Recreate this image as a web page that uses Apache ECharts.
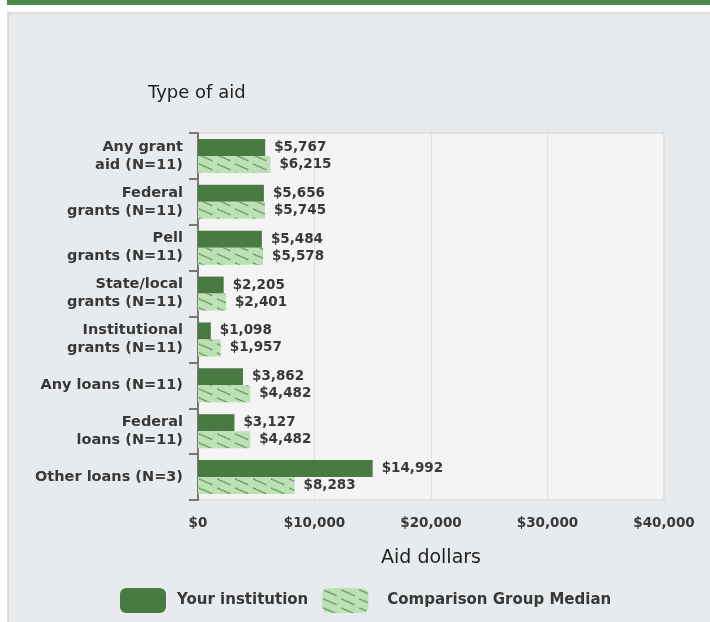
<!DOCTYPE html>
<html><head><meta charset="utf-8">
<script src="https://cdn.jsdelivr.net/npm/echarts@6/dist/echarts.min.js"></script>
<style>html,body{margin:0;padding:0;background:#fff;}#c{width:710px;height:622px;}</style>
</head><body><div id="c"></div>
<script>
var categories = ['Any grant\naid (N=11)','Federal\ngrants (N=11)','Pell\ngrants (N=11)','State/local\ngrants (N=11)','Institutional\ngrants (N=11)','Any loans (N=11)','Federal\nloans (N=11)','Other loans (N=3)'];
var yourInstitution = [5767,5656,5484,2205,1098,3862,3127,14992];
var comparisonMedian = [6215,5745,5578,2401,1957,4482,4482,8283];
var xTicks = [0,10000,20000,30000,40000];

function makePattern(){
  var W = 18, H = 9;
  var c = document.createElement('canvas');
  c.width = W; c.height = H;
  var g = c.getContext('2d');
  g.fillStyle = '#bde0b6';
  g.fillRect(0,0,W,H);
  g.fillStyle = '#4e8e48';
  for (var i=0;i<8;i++){
    var x = 1 + i*1.7, y = 1.5 + i*0.75;
    g.fillRect(x, y, 1.4, 1.4);
  }
  return c;
}
var pat = {image: makePattern(), repeat: 'repeat'};
var fmt = function(v){ return '$' + Number(v).toLocaleString('en-US'); };
var font = 'DejaVu Sans';
var chart = echarts.init(document.getElementById('c'));
chart.setOption({
  animation: false,
  backgroundColor: '#ffffff',
  graphic: [
    {type:'rect', shape:{x:7,y:0,width:710,height:5}, style:{fill:'#4b8a4f'}},
    {type:'rect', shape:{x:8,y:13,width:720,height:640}, style:{fill:'#e8ebee', stroke:'#d2d2d2', lineWidth:1.5}, z:-10},
    {type:'rect', shape:{x:198,y:133,width:466,height:367}, style:{fill:'#f4f4f4', stroke:'#dcdcdc', lineWidth:1.5}, z:-5}
  ],
  title: {text:'Type of aid', left:143, top:79, textStyle:{fontFamily:font, fontSize:18, fontWeight:'normal', color:'#222'}},
  legend: {
    bottom: 4, left: 115, itemWidth: 46, itemHeight: 25, itemGap: 14,
    textStyle:{fontFamily:font, fontSize:15, fontWeight:'bold', color:'#383838', padding:[0,0,0,6]},
    data:[{name:'Your institution', icon:'roundRect'},
          {name:'Comparison Group Median', icon:'roundRect', textStyle:{padding:[0,0,0,14]}}]
  },
  grid: {left:198, right:46, top:133, bottom:122, containLabel:false},
  xAxis: {
    type:'value', min:0, max:40000, interval:10000,
    name:'Aid dollars', nameLocation:'middle', nameGap:49,
    nameTextStyle:{fontFamily:font, fontSize:19, color:'#222'},
    axisLine:{show:false}, axisTick:{show:false},
    splitLine:{show:true, lineStyle:{color:'#dde0ec', width:1}},
    axisLabel:{fontFamily:font, fontSize:13.5, fontWeight:'bold', color:'#383838', margin:16,
      formatter:function(v){ return xTicks.indexOf(v)>=0 ? fmt(v) : ''; }}
  },
  yAxis: {
    type:'category', data:categories, inverse:true,
    axisLine:{show:true, lineStyle:{color:'#777', width:2}},
    axisTick:{show:true, length:9, lineStyle:{color:'#777', width:2}},
    axisLabel:{fontFamily:font, fontSize:14.5, fontWeight:'bold', color:'#383838', margin:15, lineHeight:18, align:'right'}
  },
  series: [
    {name:'Your institution', type:'bar', data:yourInstitution, barWidth:17, barGap:'0%',
      itemStyle:{color:'#497a42'},
      label:{show:true, position:'right', distance:9, formatter:function(p){return fmt(p.value);},
        fontFamily:font, fontSize:13.5, fontWeight:'bold', color:'#383838'}},
    {name:'Comparison Group Median', type:'bar', data:comparisonMedian, barWidth:17, barGap:'0%',
      itemStyle:{color:pat},
      label:{show:true, position:'right', distance:9, formatter:function(p){return fmt(p.value);},
        fontFamily:font, fontSize:13.5, fontWeight:'bold', color:'#383838'}}
  ]
});
</script></body></html>
